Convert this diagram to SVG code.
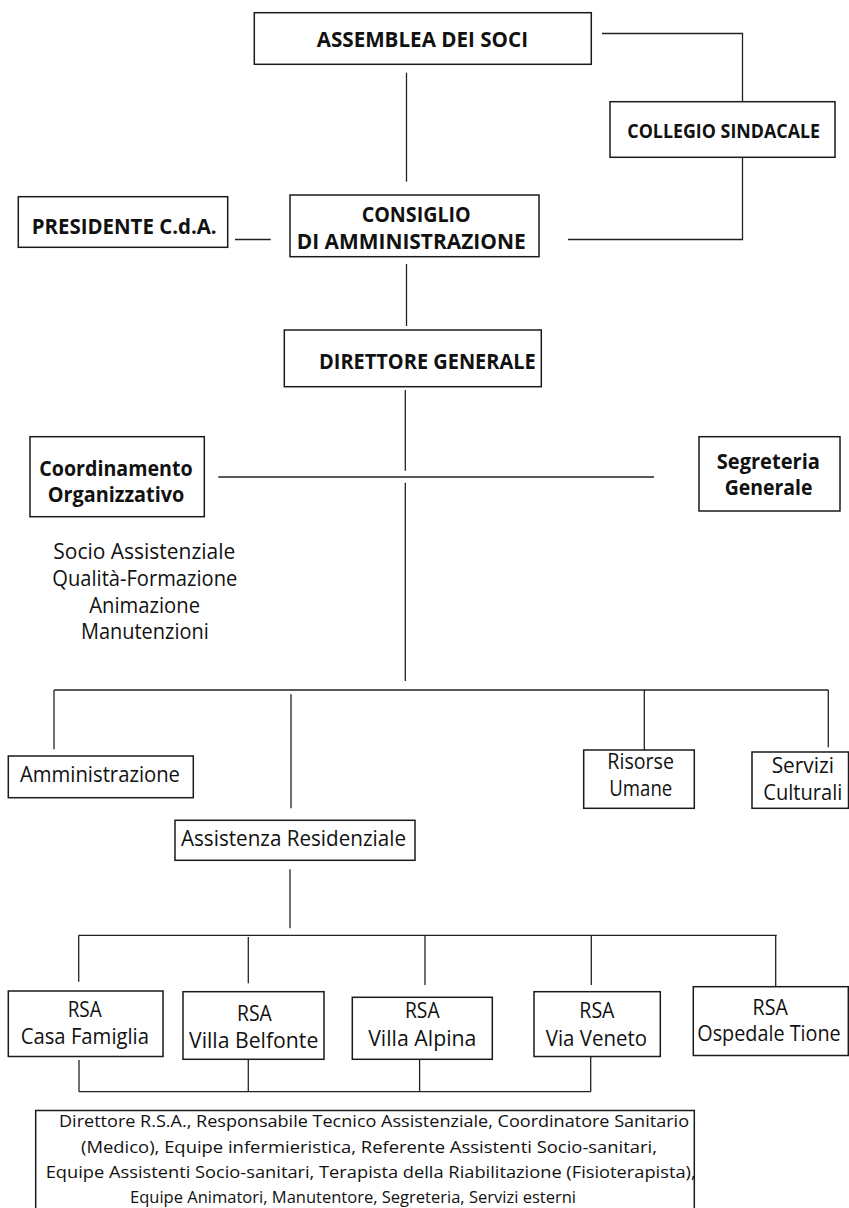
<svg xmlns="http://www.w3.org/2000/svg" width="849" height="1208" viewBox="0 0 849 1208">
  <style>
    .box { fill: #ffffff; stroke: #1a1a1a; stroke-width: 1.5; }
    .ln { fill: none; stroke: #222222; stroke-width: 1.3; }
    text { font-family: "Open Sans", "Liberation Sans", sans-serif; fill: #111111; }
    .tb { font-size: 21px; font-weight: bold; }
    .t { font-size: 21px; }
    .ts { font-size: 17px; }
  </style>
  <rect x="0" y="0" width="849" height="1208" fill="#ffffff"/>

  <!-- connectors -->
  <g id="connectors">
    <polyline class="ln" points="602,33.5 742.5,33.5 742.5,102"/>
    <polyline class="ln" points="742.5,157 742.5,239.5 568,239.5"/>
    <line class="ln" x1="406.5" y1="72.7" x2="406.5" y2="181.7"/>
    <line class="ln" x1="235" y1="239.5" x2="270.7" y2="239.5"/>
    <line class="ln" x1="406.5" y1="264" x2="406.5" y2="326"/>
    <line class="ln" x1="405.3" y1="390" x2="405.3" y2="470.7"/>
    <line class="ln" x1="218.3" y1="477" x2="654" y2="477"/>
    <line class="ln" x1="405.3" y1="482.7" x2="405.3" y2="681"/>
    <line class="ln" x1="54" y1="690" x2="828.3" y2="690"/>
    <line class="ln" x1="54" y1="690" x2="54" y2="749.3"/>
    <line class="ln" x1="291" y1="694.3" x2="291" y2="808.3"/>
    <line class="ln" x1="644.3" y1="690" x2="644.3" y2="750"/>
    <line class="ln" x1="828.3" y1="690" x2="828.3" y2="747.3"/>
    <line class="ln" x1="290" y1="869.3" x2="290" y2="928.3"/>
    <line class="ln" x1="78.7" y1="935.3" x2="776.7" y2="935.3"/>
    <line class="ln" x1="78.7" y1="935.3" x2="78.7" y2="981.7"/>
    <line class="ln" x1="248.3" y1="937" x2="248.3" y2="983.3"/>
    <line class="ln" x1="425" y1="935.3" x2="425" y2="985"/>
    <line class="ln" x1="591.3" y1="935.3" x2="591.3" y2="985"/>
    <line class="ln" x1="775.7" y1="935.3" x2="775.7" y2="986.7"/>
    <line class="ln" x1="79" y1="1060" x2="79" y2="1091.7"/>
    <line class="ln" x1="248.3" y1="1060" x2="248.3" y2="1091.7"/>
    <line class="ln" x1="419.6" y1="1060" x2="419.6" y2="1091.7"/>
    <line class="ln" x1="590.7" y1="1056.7" x2="590.7" y2="1091.7"/>
    <line class="ln" x1="79" y1="1091.7" x2="590.7" y2="1091.7"/>
  </g>

  <g id="assemblea">
    <rect class="box" x="254.3" y="12.7" width="337" height="51.6"/>
    <text class="tb" x="316.7" y="46.7" textLength="211.3" lengthAdjust="spacingAndGlyphs">ASSEMBLEA DEI SOCI</text>
  </g>
  <g id="collegio">
    <rect class="box" x="610" y="101.7" width="225" height="55.6"/>
    <text class="tb" style="font-size:19px" x="627.3" y="137.7" textLength="192.7" lengthAdjust="spacingAndGlyphs">COLLEGIO SINDACALE</text>
  </g>
  <g id="presidente">
    <rect class="box" x="18.3" y="196.7" width="209.4" height="50.6"/>
    <text class="tb" style="font-size:22px" x="31.7" y="234.3" textLength="185" lengthAdjust="spacingAndGlyphs">PRESIDENTE C.d.A.</text>
  </g>
  <g id="consiglio">
    <rect class="box" x="290" y="195" width="249" height="61.7"/>
    <text class="tb" x="361.7" y="222" textLength="109" lengthAdjust="spacingAndGlyphs">CONSIGLIO</text>
    <text class="tb" x="296.7" y="249" textLength="229" lengthAdjust="spacingAndGlyphs">DI AMMINISTRAZIONE</text>
  </g>
  <g id="direttore">
    <rect class="box" x="284.3" y="330" width="257" height="56.7"/>
    <text class="tb" x="319" y="369" textLength="216.7" lengthAdjust="spacingAndGlyphs">DIRETTORE GENERALE</text>
  </g>
  <g id="coordinamento">
    <rect class="box" x="30" y="436.7" width="174.3" height="80"/>
    <text class="tb" x="39.3" y="475.7" textLength="153.4" lengthAdjust="spacingAndGlyphs">Coordinamento</text>
    <text class="tb" x="47.7" y="502.3" textLength="136.6" lengthAdjust="spacingAndGlyphs">Organizzativo</text>
  </g>
  <g id="coordinamento-aree">
    <text class="t" x="53.3" y="559.3" textLength="182" lengthAdjust="spacingAndGlyphs">Socio Assistenziale</text>
    <text class="t" x="52.3" y="586" textLength="185" lengthAdjust="spacingAndGlyphs">Qualità-Formazione</text>
    <text class="t" x="89.3" y="612.7" textLength="110.7" lengthAdjust="spacingAndGlyphs">Animazione</text>
    <text class="t" x="81" y="639.3" textLength="127.7" lengthAdjust="spacingAndGlyphs">Manutenzioni</text>
  </g>
  <g id="segreteria">
    <rect class="box" x="699" y="436.7" width="141" height="74.3"/>
    <text class="tb" x="716.7" y="469" textLength="103.3" lengthAdjust="spacingAndGlyphs">Segreteria</text>
    <text class="tb" x="724.7" y="495" textLength="87.7" lengthAdjust="spacingAndGlyphs">Generale</text>
  </g>
  <g id="amministrazione">
    <rect class="box" x="8.3" y="756" width="185" height="41.7"/>
    <text class="t" x="20" y="781.7" textLength="160" lengthAdjust="spacingAndGlyphs">Amministrazione</text>
  </g>
  <g id="assistenza">
    <rect class="box" x="175" y="820.3" width="240" height="40"/>
    <text class="t" x="181" y="845.7" textLength="225" lengthAdjust="spacingAndGlyphs">Assistenza Residenziale</text>
  </g>
  <g id="risorse">
    <rect class="box" x="583.7" y="750" width="110.6" height="58.3"/>
    <text class="t" x="607.3" y="769.3" textLength="66.7" lengthAdjust="spacingAndGlyphs">Risorse</text>
    <text class="t" x="609.3" y="796" textLength="63" lengthAdjust="spacingAndGlyphs">Umane</text>
  </g>
  <g id="servizi">
    <rect class="box" x="752" y="752" width="96.5" height="56.3"/>
    <text class="t" x="771.7" y="773.3" textLength="62.3" lengthAdjust="spacingAndGlyphs">Servizi</text>
    <text class="t" x="763.3" y="800" textLength="79" lengthAdjust="spacingAndGlyphs">Culturali</text>
  </g>
  <g id="rsa-casa-famiglia">
    <rect class="box" x="8.3" y="991" width="154.7" height="65.5"/>
    <text class="t" x="67.7" y="1017.3" textLength="34" lengthAdjust="spacingAndGlyphs">RSA</text>
    <text class="t" x="20.7" y="1044" textLength="128.3" lengthAdjust="spacingAndGlyphs">Casa Famiglia</text>
  </g>
  <g id="rsa-villa-belfonte">
    <rect class="box" x="183" y="991.7" width="141" height="67.6"/>
    <text class="t" x="237" y="1021.3" textLength="34.8" lengthAdjust="spacingAndGlyphs">RSA</text>
    <text class="t" x="189" y="1048" textLength="129.3" lengthAdjust="spacingAndGlyphs">Villa Belfonte</text>
  </g>
  <g id="rsa-villa-alpina">
    <rect class="box" x="352.3" y="997.3" width="140" height="62"/>
    <text class="t" x="405" y="1018.3" textLength="34.6" lengthAdjust="spacingAndGlyphs">RSA</text>
    <text class="t" x="368.2" y="1046" textLength="108.2" lengthAdjust="spacingAndGlyphs">Villa Alpina</text>
  </g>
  <g id="rsa-via-veneto">
    <rect class="box" x="534" y="991.7" width="126.3" height="64.8"/>
    <text class="t" x="579.3" y="1018.3" textLength="35.2" lengthAdjust="spacingAndGlyphs">RSA</text>
    <text class="t" x="545.7" y="1046" textLength="101.3" lengthAdjust="spacingAndGlyphs">Via Veneto</text>
  </g>
  <g id="rsa-ospedale-tione">
    <rect class="box" x="693.3" y="986.7" width="155" height="68.8"/>
    <text class="t" x="752.6" y="1015" textLength="35.2" lengthAdjust="spacingAndGlyphs">RSA</text>
    <text class="t" x="697.3" y="1041" textLength="143.4" lengthAdjust="spacingAndGlyphs">Ospedale Tione</text>
  </g>
  <g id="staff-rsa">
    <rect class="box" x="35.7" y="1110.5" width="658.6" height="110"/>
    <text class="ts" x="59" y="1127.3" textLength="630" lengthAdjust="spacingAndGlyphs">Direttore R.S.A., Responsabile Tecnico Assistenziale, Coordinatore Sanitario</text>
    <text class="ts" x="81" y="1152.7" textLength="576" lengthAdjust="spacingAndGlyphs">(Medico), Equipe infermieristica, Referente Assistenti Socio-sanitari,</text>
    <text class="ts" x="45.7" y="1178" textLength="650" lengthAdjust="spacingAndGlyphs">Equipe Assistenti Socio-sanitari, Terapista della Riabilitazione (Fisioterapista),</text>
    <text class="ts" x="130" y="1203.3" textLength="446" lengthAdjust="spacingAndGlyphs">Equipe Animatori, Manutentore, Segreteria, Servizi esterni</text>
  </g>
</svg>
